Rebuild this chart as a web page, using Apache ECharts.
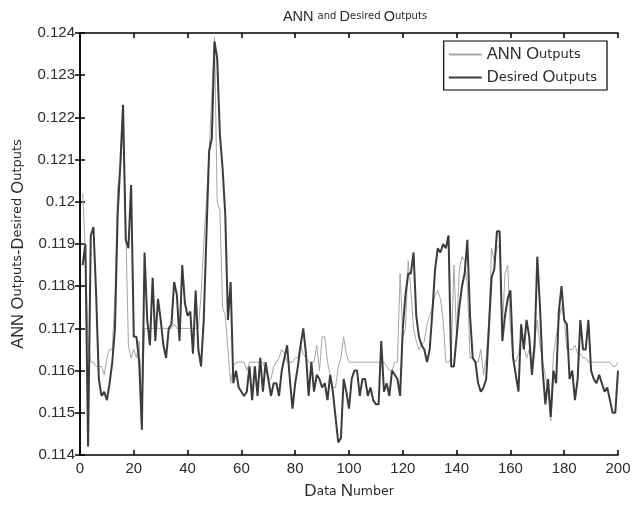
<!DOCTYPE html>
<html><head><meta charset="utf-8">
<script src="https://cdn.jsdelivr.net/npm/echarts@6/dist/echarts.min.js"></script>
<style>html,body{margin:0;padding:0;background:#fff}#c{width:640px;height:505px}</style>
</head><body><div id="c"></div>
<script>
const seriesNames = ['ANN Outputs', 'Desired Outputs'];
const xTicks = [0,20,40,60,80,100,120,140,160,180,200];
const yTicks = [0.114,0.115,0.116,0.117,0.118,0.119,0.12,0.121,0.122,0.123,0.124];
// Data index 1..200
const desired = [
0.1185,0.1190,0.1142,0.1192,0.1194,0.1178,0.1158,0.1154,0.1155,0.1153,
0.1157,0.1162,0.1170,0.1197,0.1209,0.1223,0.1191,0.1189,0.1204,0.1168,
0.1168,0.1162,0.1146,0.1188,0.1172,0.1166,0.1182,0.1167,0.1177,0.1172,
0.1166,0.1163,0.1170,0.1171,0.1181,0.1178,0.1167,0.1185,0.1176,0.1173,
0.1174,0.1164,0.1179,0.1165,0.1161,0.1172,0.1192,0.1212,0.1215,0.1238,
0.1234,0.1216,0.1208,0.1197,0.1172,0.1181,0.1157,0.1160,0.1156,0.1155,
0.1154,0.1155,0.1161,0.1153,0.1161,0.1154,0.1163,0.1155,0.1162,0.1158,
0.1154,0.1157,0.1157,0.1154,0.1160,0.1163,0.1166,0.1158,0.1151,0.1157,
0.1161,0.1166,0.1170,0.1164,0.1154,0.1162,0.1155,0.1159,0.1158,0.1156,
0.1157,0.1153,0.1159,0.1155,0.1149,0.1143,0.1144,0.1158,0.1155,0.1151,
0.1158,0.1160,0.1160,0.1154,0.1158,0.1158,0.1154,0.1156,0.1153,0.1152,
0.1152,0.1167,0.1155,0.1157,0.1154,0.1160,0.1159,0.1158,0.1154,0.1170,
0.1178,0.1183,0.1183,0.1188,0.1173,0.1168,0.1166,0.1165,0.1162,0.1165,
0.1174,0.1184,0.1189,0.1188,0.1190,0.1189,0.1192,0.1161,0.1161,0.1168,
0.1175,0.1180,0.1183,0.1191,0.1173,0.1163,0.1162,0.1157,0.1155,0.1156,
0.1158,0.1170,0.1182,0.1184,0.1193,0.1193,0.1167,0.1173,0.1177,0.1179,
0.1163,0.1159,0.1155,0.1171,0.1165,0.1172,0.1168,0.1159,0.1166,0.1187,
0.1175,0.1160,0.1152,0.1158,0.1149,0.1160,0.1157,0.1174,0.1180,0.1172,
0.1171,0.1158,0.1160,0.1153,0.1158,0.1172,0.1165,0.1165,0.1172,0.1160,
0.1158,0.1157,0.1159,0.1157,0.1155,0.1156,0.1153,0.1150,0.1150,0.1160
];
const ann = [
0.1202,0.1188,0.1166,0.1162,0.1162,0.1161,0.1161,0.1161,0.1159,0.1163,
0.1165,0.1165,0.1178,0.1203,0.1208,0.1217,0.1195,0.1166,0.1163,0.1165,
0.1163,0.1167,0.1151,0.1170,0.1170,0.1170,0.1170,0.1170,0.1170,0.1170,
0.1170,0.1170,0.1170,0.1170,0.1171,0.1170,0.1170,0.1170,0.1170,0.1170,
0.1170,0.1170,0.1170,0.1170,0.1178,0.1190,0.1200,0.1212,0.1225,0.1239,
0.1200,0.1198,0.1175,0.1173,0.1165,0.1157,0.1161,0.1162,0.1162,0.1162,
0.1162,0.1160,0.1162,0.1162,0.1162,0.1162,0.1162,0.1162,0.1160,0.1158,
0.1158,0.1161,0.1162,0.1163,0.1165,0.1164,0.1162,0.1162,0.1162,0.1163,
0.1163,0.1166,0.1164,0.1163,0.1162,0.1162,0.1162,0.1166,0.1160,0.1168,
0.1168,0.1162,0.1159,0.1156,0.1156,0.1161,0.1163,0.1168,0.1164,0.1162,
0.1162,0.1162,0.1162,0.1162,0.1162,0.1162,0.1162,0.1162,0.1162,0.1162,
0.1162,0.1162,0.1162,0.1161,0.1160,0.1160,0.1162,0.1162,0.1183,0.1168,
0.1170,0.1186,0.1179,0.1170,0.1167,0.1165,0.1166,0.1167,0.1171,0.1173,
0.1175,0.1178,0.1179,0.1177,0.1172,0.1162,0.1162,0.1163,0.1185,0.1168,
0.1184,0.1187,0.1186,0.1180,0.1163,0.1163,0.1162,0.1162,0.1165,0.1159,
0.1163,0.1172,0.1189,0.1186,0.1189,0.1190,0.1170,0.1183,0.1185,0.1170,
0.1163,0.1162,0.1164,0.1168,0.1166,0.1163,0.1165,0.1162,0.1167,0.1172,
0.1166,0.1162,0.1159,0.1155,0.1148,0.1164,0.1168,0.1172,0.1175,0.1172,
0.1165,0.1165,0.1165,0.1166,0.1164,0.1164,0.1163,0.1163,0.1162,0.1162,
0.1162,0.1162,0.1162,0.1162,0.1162,0.1162,0.1162,0.1161,0.1161,0.1162
];

const FONT = "'Liberation Sans',sans-serif";
const SFONT = "'DejaVu Sans',sans-serif";
function mkRich(big, small) {
  return {
    b: {fontSize: big, fontFamily: FONT, fontWeight: 'normal', color: '#2a2a2a'},
    s: {fontSize: small, fontFamily: SFONT, fontWeight: 'normal', color: '#2a2a2a'}
  };
}
function fancy(str) {
  // large capitals, small lowercase letters
  let out = '', cur = null, buf = '';
  for (const ch of str) {
    const t = (ch >= 'a' && ch <= 'z') ? 's' : (ch === ' ' ? (cur || 'b') : 'b');
    if (t !== cur && buf) { out += '{' + cur + '|' + buf + '}'; buf = ''; }
    cur = t; buf += ch;
  }
  if (buf) out += '{' + cur + '|' + buf + '}';
  return out;
}

const toPairs = arr => arr.map((v, i) => [i + 1, v]);
const axisCommon = {
  type: 'value',
  axisLine: {show: true, lineStyle: {color: '#000', width: 1.5}},
  axisTick: {show: true, inside: true, length: 5, lineStyle: {color: '#000', width: 1.5}},
  splitLine: {show: false}
};
const chart = echarts.init(document.getElementById('c'), null, {renderer: 'canvas'});
chart.setOption({
  animation: false,
  backgroundColor: '#fff',
  title: {
    text: fancy('ANN and Desired Outputs'),
    left: 350, top: 4, textAlign: 'center',
    textStyle: {fontWeight: 'normal', rich: mkRich(14.5, 10)}
  },
  legend: {
    orient: 'vertical',
    right: 33, top: 41,
    data: seriesNames,
    backgroundColor: '#fff',
    borderColor: '#000', borderWidth: 1.2, borderRadius: 0,
    padding: [5, 10, 4, 5],
    itemGap: 6,
    itemWidth: 33, itemHeight: 2,
    icon: 'rect',
    formatter: n => fancy(n),
    textStyle: {rich: mkRich(16.5, 13)}
  },
  grid: {left: 80, right: 22, top: 33, bottom: 48, containLabel: false},
  xAxis: [
    Object.assign({}, axisCommon, {
      min: 0, max: 200, interval: 20, position: 'bottom',
      axisLabel: {show: true, margin: 6, fontSize: 15, fontFamily: FONT, color: '#2a2a2a',
        formatter: v => xTicks.includes(v) ? String(v) : ''},
      name: fancy('Data Number'), nameLocation: 'middle', nameGap: 28,
      nameTextStyle: {rich: mkRich(17, 12.5)}
    }),
    Object.assign({}, axisCommon, {
      min: 0, max: 200, interval: 20, position: 'top', axisLabel: {show: false}
    })
  ],
  yAxis: [
    Object.assign({}, axisCommon, {
      min: 0.114, max: 0.124, interval: 0.001, position: 'left',
      axisLabel: {show: true, margin: 5, fontSize: 15, fontFamily: FONT, color: '#2a2a2a',
        formatter: v => yTicks.includes(parseFloat(v.toFixed(3))) ? String(parseFloat(v.toFixed(3))) : ''},
      name: fancy('ANN Outputs-Desired Outputs'), nameLocation: 'middle', nameGap: 52,
      nameRotate: 90,
      nameTextStyle: {rich: mkRich(16.5, 13)}
    }),
    Object.assign({}, axisCommon, {
      min: 0.114, max: 0.124, interval: 0.001, position: 'right', axisLabel: {show: false}
    })
  ],
  series: [
    {
      name: seriesNames[0], type: 'line', data: toPairs(ann),
      showSymbol: false, symbol: 'none',
      lineStyle: {color: '#a6a6a6', width: 1},
      itemStyle: {color: '#a6a6a6'}, z: 2
    },
    {
      name: seriesNames[1], type: 'line', data: toPairs(desired),
      showSymbol: false, symbol: 'none',
      lineStyle: {color: '#3c3c3c', width: 2},
      itemStyle: {color: '#3c3c3c'}, z: 3
    }
  ]
});
</script>
</body></html>
